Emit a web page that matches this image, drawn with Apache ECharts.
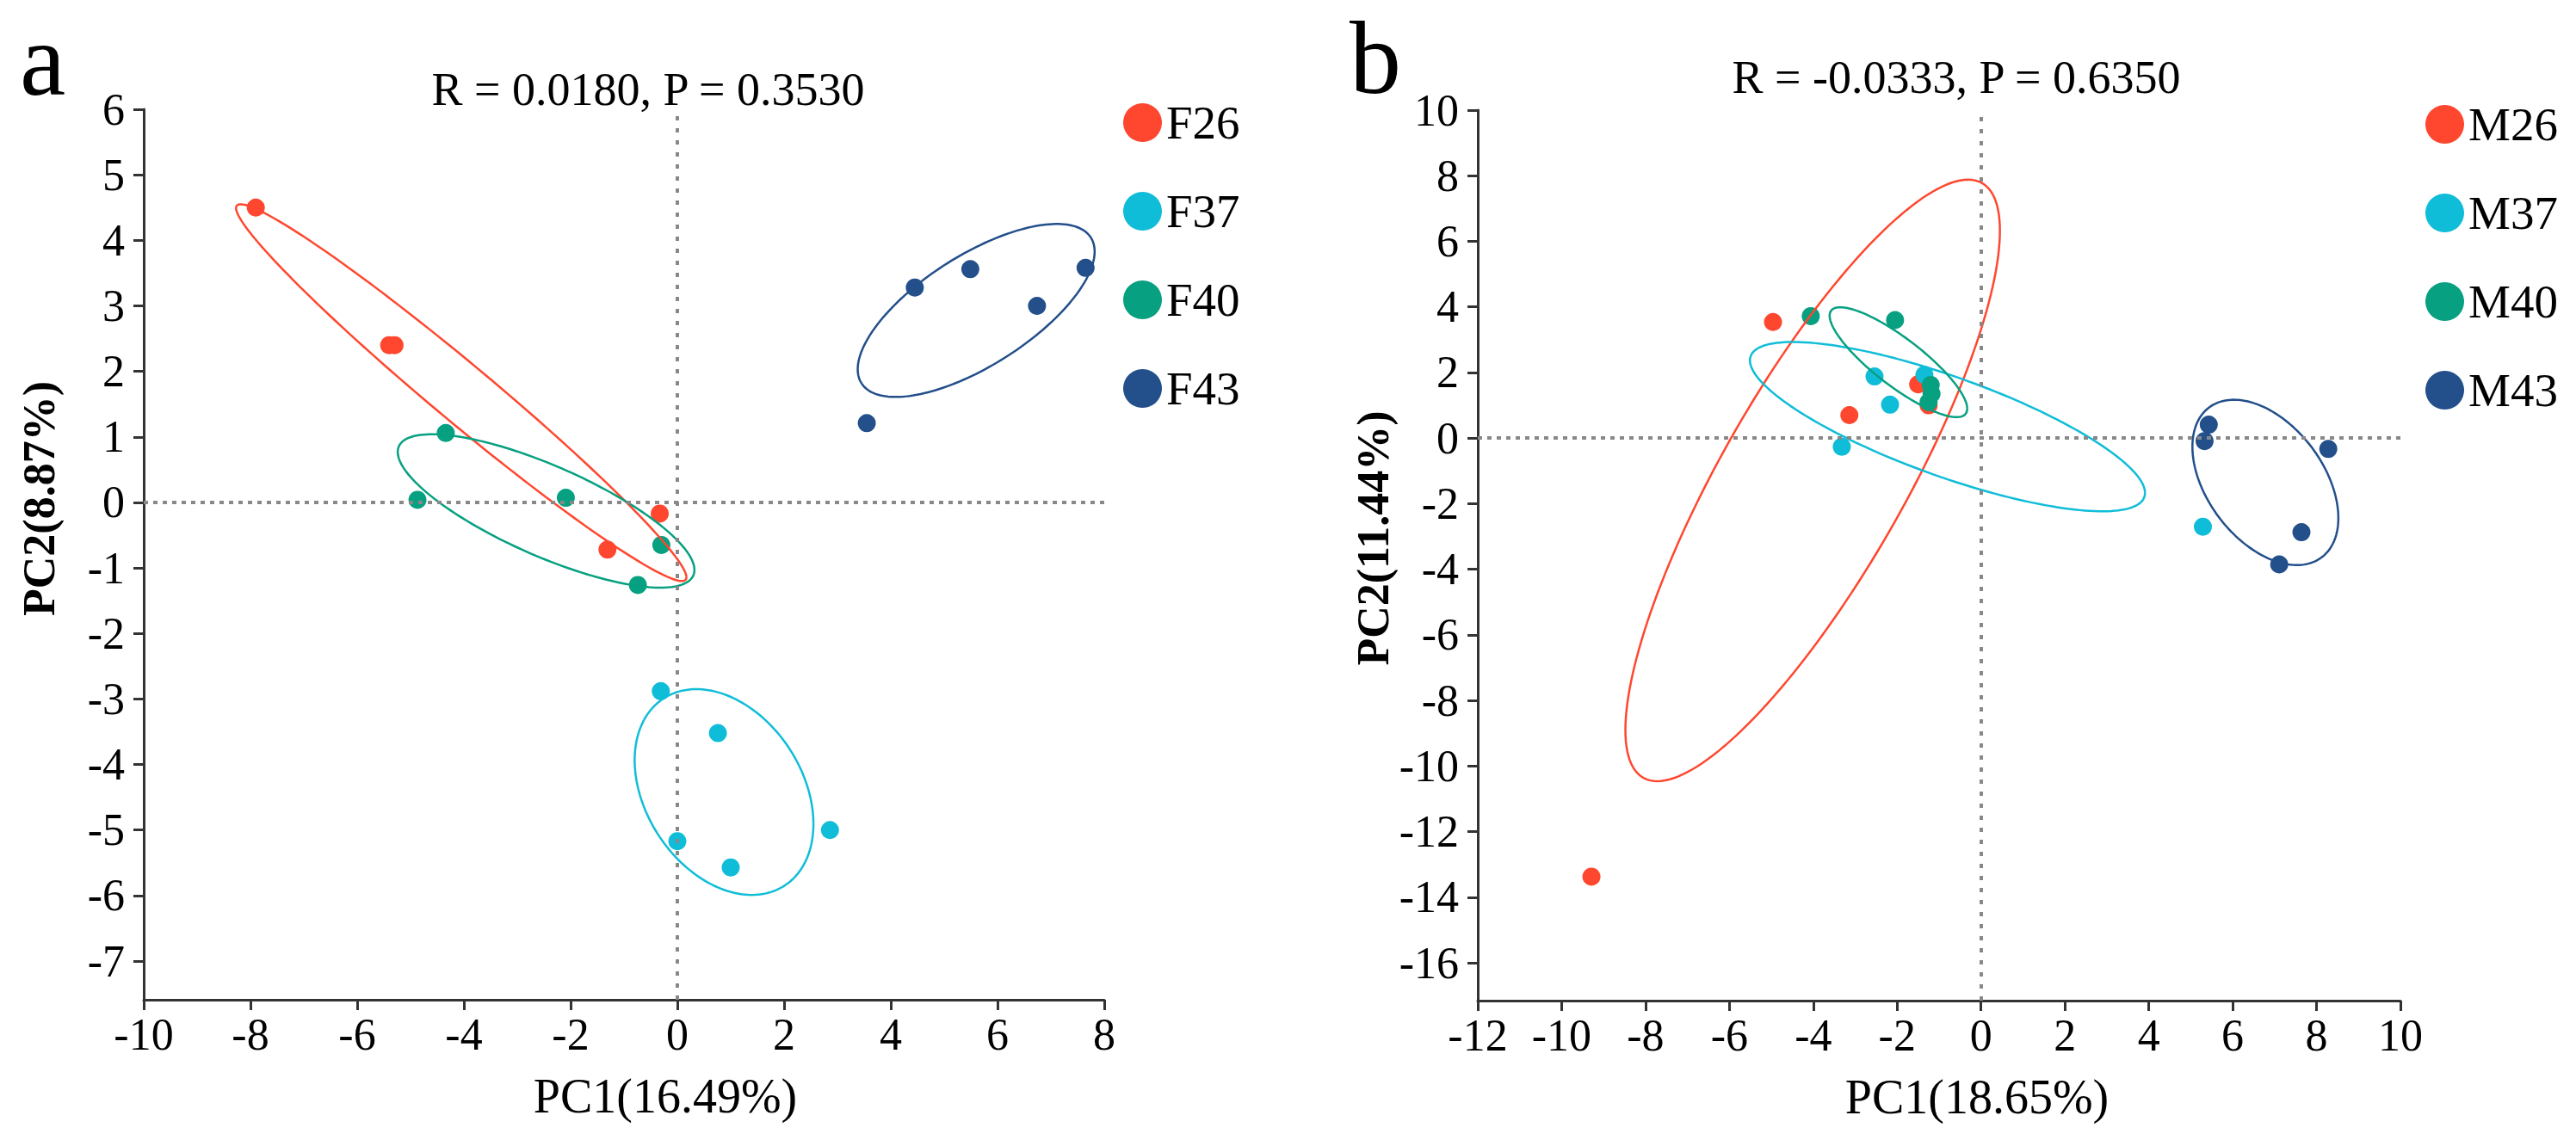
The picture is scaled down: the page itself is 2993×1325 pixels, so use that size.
<!DOCTYPE html>
<html>
<head>
<meta charset="utf-8">
<title>PCoA</title>
<script src="https://cdn.jsdelivr.net/npm/echarts@6/dist/echarts.min.js"></script>
<style>
  html, body { margin: 0; padding: 0; background: #fff; }
  #chart { width: 2993px; height: 1325px; }
</style>
</head>
<body>
<div id="chart"></div>
<script>
// 颜色与分组
var colors = ['#FF472F', '#10BDD8', '#07A080', '#234F8A'];
var groupsA = ['F26', 'F37', 'F40', 'F43'];
var groupsB = ['M26', 'M37', 'M40', 'M43'];

// a 图的样本点 [PC1, PC2]
var f26 = [[-7.9, 4.5], [-5.4, 2.4], [-5.3, 2.4], [-0.33, -0.17], [-1.31, -0.72]];
var f37 = [[-0.31, -2.88], [0.76, -3.52], [2.86, -5.0], [0.0, -5.17], [1.0, -5.57]];
var f40 = [[-4.34, 1.06], [-4.87, 0.04], [-2.09, 0.07], [-0.3, -0.65], [-0.74, -1.26]];
var f43 = [[4.45, 3.28], [5.49, 3.56], [7.65, 3.58], [6.74, 3.0], [3.55, 1.21]];

// b 图的样本点
var m26 = [[-4.96, 3.54], [-3.14, 0.7], [-1.5, 1.64], [-1.25, 1.0], [-9.29, -13.37]];
var m37 = [[-2.54, 1.88], [-2.17, 1.02], [-1.35, 1.93], [-3.32, -0.26], [5.29, -2.7]];
var m40 = [[-4.06, 3.72], [-2.05, 3.6], [-1.2, 1.62], [-1.18, 1.35], [-1.25, 1.1]];
var m43 = [[5.43, 0.41], [5.33, -0.09], [8.28, -0.33], [7.64, -2.87], [7.11, -3.85]];

// 置信椭圆: [中心x, 中心y, x半幅, y半幅, 相位]
var ellF26 = [-4.05, 1.675, 4.22, 2.875, 2.94];
var ellF37 = [0.875, -4.42, 1.675, 1.57, 1.886];
var ellF40 = [-2.46, -0.13, 2.78, 1.17, 2.449];
var ellF43 = [5.6, 2.93, 2.22, 1.32, 0.823];
var ellM26 = [-4.015, -1.29, 4.465, 9.17, 0.592];
var ellM37 = [-0.8, 0.35, 4.71, 2.58, 2.47];
var ellM40 = [-1.97, 2.315, 1.64, 1.675, 2.577];
var ellM43 = [6.78, -1.35, 1.74, 2.52, 2.016];

// 坐标轴刻度
var yTicksA = [-7, -6, -5, -4, -3, -2, -1, 0, 1, 2, 3, 4, 5, 6];
var yTicksB = [-16, -14, -12, -10, -8, -6, -4, -2, 0, 2, 4, 6, 8, 10];

var serif = 'Liberation Serif, Times New Roman, serif';
var axisColor = '#333';

var chart = echarts.init(document.getElementById('chart'), null, { renderer: 'svg' });

function scatterSeries(name, data, color, idx, withLines) {
  var s = {
    name: name,
    type: 'scatter',
    xAxisIndex: idx,
    yAxisIndex: idx,
    data: data,
    symbolSize: 21,
    itemStyle: { color: color, opacity: 1 },
    z: 3,
    silent: true
  };
  if (withLines) {
    s.markLine = {
      silent: true,
      symbol: 'none',
      label: { show: false },
      animation: false,
      data: [
        { xAxis: 0, lineStyle: { color: '#888', width: 4, type: [5, 9] } },
        { yAxis: 0, lineStyle: { color: '#888', width: 4, type: [5, 6] } }
      ]
    };
  }
  return s;
}

function ellipseSeries(name, ell, color, idx) {
  return {
    name: name,
    type: 'custom',
    xAxisIndex: idx,
    yAxisIndex: idx,
    data: [[ell[0], ell[1]]],
    encode: { x: 0, y: 1 },
    itemStyle: { color: color },
    z: 4,
    silent: true,
    renderItem: function (params, api) {
      var pts = [];
      for (var i = 0; i <= 180; i++) {
        var t = i / 180 * Math.PI * 2;
        var x = ell[0] + ell[2] * Math.cos(t);
        var y = ell[1] + ell[3] * Math.cos(t - ell[4]);
        pts.push(api.coord([x, y]));
      }
      return {
        type: 'polyline',
        shape: { points: pts },
        style: { fill: null, stroke: color, lineWidth: 2.5 }
      };
    }
  };
}

function xAxis(idx, min, max, name, shift) {
  return {
    gridIndex: idx,
    type: 'value',
    min: min,
    max: max,
    interval: 2,
    name: name,
    nameLocation: 'middle',
    nameGap: 84,
    nameTextStyle: { fontFamily: serif, fontSize: 56, color: '#000', padding: [0, 0, 0, shift * 2] },
    axisLine: { onZero: false, lineStyle: { color: axisColor, width: 3 } },
    axisTick: { length: 12, lineStyle: { color: axisColor, width: 3 } },
    axisLabel: { fontFamily: serif, fontSize: 52, color: '#000', margin: 14 },
    splitLine: { show: false }
  };
}

function yAxis(idx, min, max, ticks, name, shift) {
  return {
    gridIndex: idx,
    type: 'value',
    min: min,
    max: max,
    name: name,
    nameLocation: 'middle',
    nameRotate: 90,
    nameGap: 96,
    nameTextStyle: { fontFamily: serif, fontSize: 52, fontWeight: 'bold', color: '#000', padding: [0, 0, 0, shift * 2] },
    axisLine: { onZero: false, lineStyle: { color: axisColor, width: 3 } },
    axisTick: { length: 12, customValues: ticks, lineStyle: { color: axisColor, width: 3 } },
    axisLabel: { fontFamily: serif, fontSize: 52, color: '#000', margin: 22, customValues: ticks },
    splitLine: { show: false }
  };
}

function legend(data, left, top) {
  return {
    data: data,
    orient: 'vertical',
    left: left,
    top: top,
    icon: 'circle',
    itemWidth: 45,
    itemHeight: 45,
    itemGap: 48,
    padding: 0,
    selectedMode: false,
    textStyle: { fontFamily: serif, fontSize: 55, color: '#000', lineHeight: 45 }
  };
}

var option = {
  backgroundColor: '#fff',
  animation: false,
  title: [
    { text: 'a', left: 18, top: 4, textStyle: { fontFamily: serif, fontSize: 120, fontWeight: 'normal', color: '#000' } },
    { text: 'b', left: 1563, top: 2, textStyle: { fontFamily: serif, fontSize: 120, fontWeight: 'normal', color: '#000' } },
    { text: 'R = 0.0180, P = 0.3530', left: 748, top: 72, textAlign: 'center',
      textStyle: { fontFamily: serif, fontSize: 54, fontWeight: 'normal', color: '#000' } },
    { text: 'R = -0.0333, P = 0.6350', left: 2268, top: 58, textAlign: 'center',
      textStyle: { fontFamily: serif, fontSize: 54, fontWeight: 'normal', color: '#000' } }
  ],
  legend: [
    legend(groupsA, 1305, 115),
    legend(groupsB, 2818, 117)
  ],
  grid: [
    { left: 167, top: 127, width: 1116, height: 1035 },
    { left: 1717, top: 128, width: 1072, height: 1035 }
  ],
  xAxis: [
    xAxis(0, -10, 8, 'PC1(16.49%)', 48),
    xAxis(1, -12, 10, 'PC1(18.65%)', 44)
  ],
  yAxis: [
    yAxis(0, -7.59, 6, yTicksA, 'PC2(8.87%)', 65),
    yAxis(1, -17.15, 10, yTicksB, 'PC2(11.44%)', 20)
  ],
  series: [
    scatterSeries(groupsA[0], f26, colors[0], 0, true),
    scatterSeries(groupsA[1], f37, colors[1], 0, false),
    scatterSeries(groupsA[2], f40, colors[2], 0, false),
    scatterSeries(groupsA[3], f43, colors[3], 0, false),
    ellipseSeries(groupsA[0], ellF26, colors[0], 0),
    ellipseSeries(groupsA[1], ellF37, colors[1], 0),
    ellipseSeries(groupsA[2], ellF40, colors[2], 0),
    ellipseSeries(groupsA[3], ellF43, colors[3], 0),
    scatterSeries(groupsB[0], m26, colors[0], 1, true),
    scatterSeries(groupsB[1], m37, colors[1], 1, false),
    scatterSeries(groupsB[2], m40, colors[2], 1, false),
    scatterSeries(groupsB[3], m43, colors[3], 1, false),
    ellipseSeries(groupsB[0], ellM26, colors[0], 1),
    ellipseSeries(groupsB[1], ellM37, colors[1], 1),
    ellipseSeries(groupsB[2], ellM40, colors[2], 1),
    ellipseSeries(groupsB[3], ellM43, colors[3], 1)
  ]
};

chart.setOption(option);
</script>
</body>
</html>
